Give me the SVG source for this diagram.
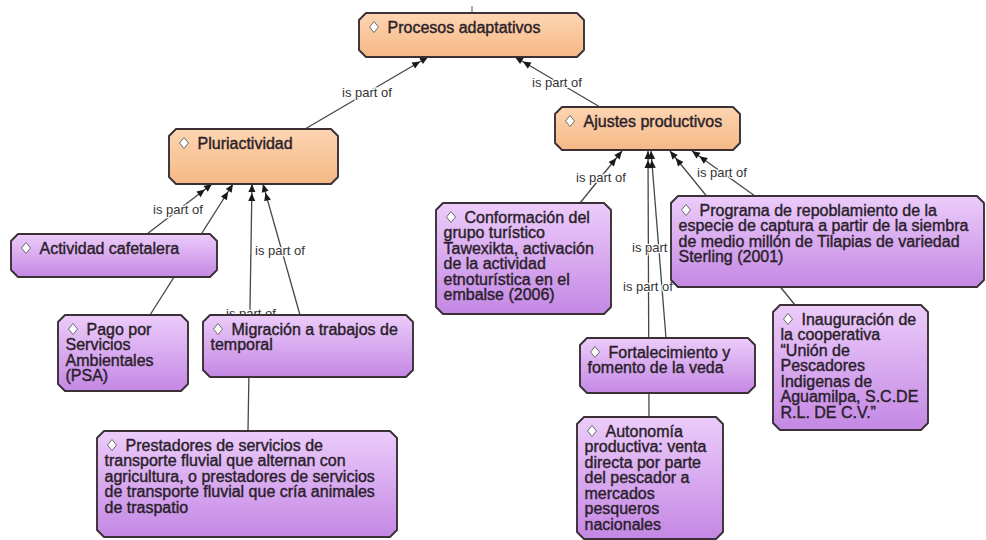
<svg xmlns="http://www.w3.org/2000/svg" width="986" height="540" viewBox="0 0 986 540">
  <defs>
    <linearGradient id="gOrange" x1="0" y1="0" x2="0" y2="1">
      <stop offset="0" stop-color="#fdd5b2"/>
      <stop offset="1" stop-color="#f6b886"/>
    </linearGradient>
    <linearGradient id="gPurple" x1="0" y1="0" x2="0" y2="1">
      <stop offset="0" stop-color="#ecccfa"/>
      <stop offset="1" stop-color="#c488e4"/>
    </linearGradient>
    <marker id="arrow" markerUnits="userSpaceOnUse" markerWidth="20" markerHeight="10" viewBox="-19 -5 20 10" refX="0" refY="0" orient="auto">
      <path d="M0,0 L-8,-3.5 L-8,3.5 Z M-9,0 L-17,-3.5 L-17,3.5 Z" fill="#1a1a1a"/>
    </marker>
    <style>
      .box { stroke:#3a3036; stroke-width:1.9; stroke-linejoin:round; }
      .orange { fill:url(#gOrange); }
      .purple { fill:url(#gPurple); }
      .t { font-family:"Liberation Sans", Arial, sans-serif; font-size:16px; fill:#2a1e2a; stroke:#2a1e2a; stroke-width:0.4; }
      .dia { fill:#ffffff; stroke:#6a6a6a; stroke-width:1; }
      .edge { stroke:#474747; stroke-width:1.3; fill:none; marker-end:url(#arrow); }
      .plain { stroke:#777; stroke-width:1.2; fill:none; }
      .lbl { font-family:"Liberation Sans", Arial, sans-serif; font-size:13px; fill:#333333; text-anchor:middle; stroke:#ffffff; stroke-width:2.5; stroke-linejoin:round; paint-order:stroke; }
    </style>
  </defs>

  <rect width="986" height="540" fill="#ffffff"/>

  <!-- connectors: drawn first so the boxes sit on top of them -->
  <g id="connectors">
    <line class="plain" x1="472" y1="6" x2="472" y2="13"/>
    <path class="edge" d="M305,129 L428,57"/>
    <path class="edge" d="M600,107 L515,57"/>
    <path class="edge" d="M147,234 L212,184"/>
    <path class="edge" d="M150,315 L233,184"/>
    <path class="edge" d="M248,431 L252,184"/>
    <path class="edge" d="M300,315 L263,184"/>
    <path class="edge" d="M580,203 L622,151"/>
    <path class="edge" d="M649,417 L648,151"/>
    <path class="edge" d="M666,338 L651,151"/>
    <path class="edge" d="M795,305 L670,151"/>
    <path class="edge" d="M755,196 L692,151"/>

    <text class="lbl" x="367" y="97">is part of</text>
    <text class="lbl" x="557" y="87">is part of</text>
    <text class="lbl" x="178" y="214">is part of</text>
    <text class="lbl" x="280" y="255">is part of</text>
    <text class="lbl" x="251" y="318">is part of</text>
    <text class="lbl" x="601" y="182">is part of</text>
    <text class="lbl" x="657" y="252">is part of</text>
    <text class="lbl" x="648" y="291">is part of</text>
    <text class="lbl" x="722" y="177">is part of</text>
  </g>

  <g id="n-procesos">
    <path class="box orange" d="M366,13 H577 L584,20 V50 L577,57 H366 L359,50 V20 Z"/>
    <path class="dia" d="M374,21.5 L378.5,27 L374,32.5 L369.5,27 Z"/>
    <text class="t" x="387.5" y="32.5">Procesos adaptativos</text>
  </g>

  <g id="n-pluriactividad">
    <path class="box orange" d="M176,129 H331 L338,136 V177 L331,184 H176 L169,177 V136 Z"/>
    <path class="dia" d="M184,137.5 L188.5,143 L184,148.5 L179.5,143 Z"/>
    <text class="t" x="197.5" y="148.5">Pluriactividad</text>
  </g>

  <g id="n-ajustes">
    <path class="box orange" d="M562,107 H733 L740,114 V143 L733,150 H562 L555,143 V114 Z"/>
    <path class="dia" d="M570,115.5 L574.5,121 L570,126.5 L565.5,121 Z"/>
    <text class="t" x="583.5" y="126.5">Ajustes productivos</text>
  </g>

  <g id="n-cafetalera">
    <path class="box purple" d="M18,234 H210 L217,241 V270 L210,277 H18 L11,270 V241 Z"/>
    <path class="dia" d="M26,242.5 L30.5,248 L26,253.5 L21.5,248 Z"/>
    <text class="t" x="39.5" y="253.5">Actividad cafetalera</text>
  </g>

  <g id="n-psa">
    <path class="box purple" d="M65,315 H181 L188,322 V384 L181,391 H65 L58,384 V322 Z"/>
    <path class="dia" d="M73,323.5 L77.5,329 L73,334.5 L68.5,329 Z"/>
    <text class="t" x="86.5" y="334.5">Pago por</text>
    <text class="t" x="65.5" y="350">Servicios</text>
    <text class="t" x="65.5" y="365.5">Ambientales</text>
    <text class="t" x="65.5" y="381">(PSA)</text>
  </g>

  <g id="n-migracion">
    <path class="box purple" d="M210,315 H406 L413,322 V370 L406,377 H210 L203,370 V322 Z"/>
    <path class="dia" d="M218,323.5 L222.5,329 L218,334.5 L213.5,329 Z"/>
    <text class="t" x="231.5" y="334.5">Migración a trabajos de</text>
    <text class="t" x="210.5" y="350">temporal</text>
  </g>

  <g id="n-prestadores">
    <path class="box purple" d="M104,431 H390 L397,438 V530 L390,537 H104 L97,530 V438 Z"/>
    <path class="dia" d="M112,439.5 L116.5,445 L112,450.5 L107.5,445 Z"/>
    <text class="t" x="125.5" y="450.5">Prestadores de servicios de</text>
    <text class="t" x="104.5" y="466">transporte fluvial que alternan con</text>
    <text class="t" x="104.5" y="481.5">agricultura, o prestadores de servicios</text>
    <text class="t" x="104.5" y="497">de transporte fluvial que cría animales</text>
    <text class="t" x="104.5" y="512.5">de traspatio</text>
  </g>

  <g id="n-conformacion">
    <path class="box purple" d="M443,203 H604 L611,210 V307 L604,314 H443 L436,307 V210 Z"/>
    <path class="dia" d="M451,211.5 L455.5,217 L451,222.5 L446.5,217 Z"/>
    <text class="t" x="464.5" y="222.5">Conformación del</text>
    <text class="t" x="443.5" y="238">grupo turístico</text>
    <text class="t" x="443.5" y="253.5">Tawexikta, activación</text>
    <text class="t" x="443.5" y="269">de la actividad</text>
    <text class="t" x="443.5" y="284.5">etnoturística en el</text>
    <text class="t" x="443.5" y="300">embalse (2006)</text>
  </g>

  <g id="n-programa">
    <path class="box purple" d="M678,196 H977 L984,203 V280 L977,287 H678 L671,280 V203 Z"/>
    <path class="dia" d="M686,204.5 L690.5,210 L686,215.5 L681.5,210 Z"/>
    <text class="t" x="699.5" y="215.5">Programa de repoblamiento de la</text>
    <text class="t" x="678.5" y="231">especie de captura a partir de la siembra</text>
    <text class="t" x="678.5" y="246.5">de medio millón de Tilapias de variedad</text>
    <text class="t" x="678.5" y="262">Sterling (2001)</text>
  </g>

  <g id="n-inauguracion">
    <path class="box purple" d="M780,305 H921 L928,312 V423 L921,430 H780 L773,423 V312 Z"/>
    <path class="dia" d="M788,313.5 L792.5,319 L788,324.5 L783.5,319 Z"/>
    <text class="t" x="801.5" y="324.5">Inauguración de</text>
    <text class="t" x="780.5" y="340">la cooperativa</text>
    <text class="t" x="780.5" y="355.5">“Unión de</text>
    <text class="t" x="780.5" y="371">Pescadores</text>
    <text class="t" x="780.5" y="386.5">Indigenas de</text>
    <text class="t" x="780.5" y="402">Aguamilpa, S.C.DE</text>
    <text class="t" x="780.5" y="417.5">R.L. DE C.V.”</text>
  </g>

  <g id="n-fortalecimiento">
    <path class="box purple" d="M587,338 H748 L755,345 V386 L748,393 H587 L580,386 V345 Z"/>
    <path class="dia" d="M595,346.5 L599.5,352 L595,357.5 L590.5,352 Z"/>
    <text class="t" x="608.5" y="357.5">Fortalecimiento y</text>
    <text class="t" x="587.5" y="373">fomento de la veda</text>
  </g>

  <g id="n-autonomia">
    <path class="box purple" d="M584,417 H716 L723,424 V532 L716,539 H584 L577,532 V424 Z"/>
    <path class="dia" d="M592,425.5 L596.5,431 L592,436.5 L587.5,431 Z"/>
    <text class="t" x="605.5" y="436.5">Autonomía</text>
    <text class="t" x="584.5" y="452">productiva: venta</text>
    <text class="t" x="584.5" y="467.5">directa por parte</text>
    <text class="t" x="584.5" y="483">del pescador a</text>
    <text class="t" x="584.5" y="498.5">mercados</text>
    <text class="t" x="584.5" y="514">pesqueros</text>
    <text class="t" x="584.5" y="529.5">nacionales</text>
  </g>
</svg>
